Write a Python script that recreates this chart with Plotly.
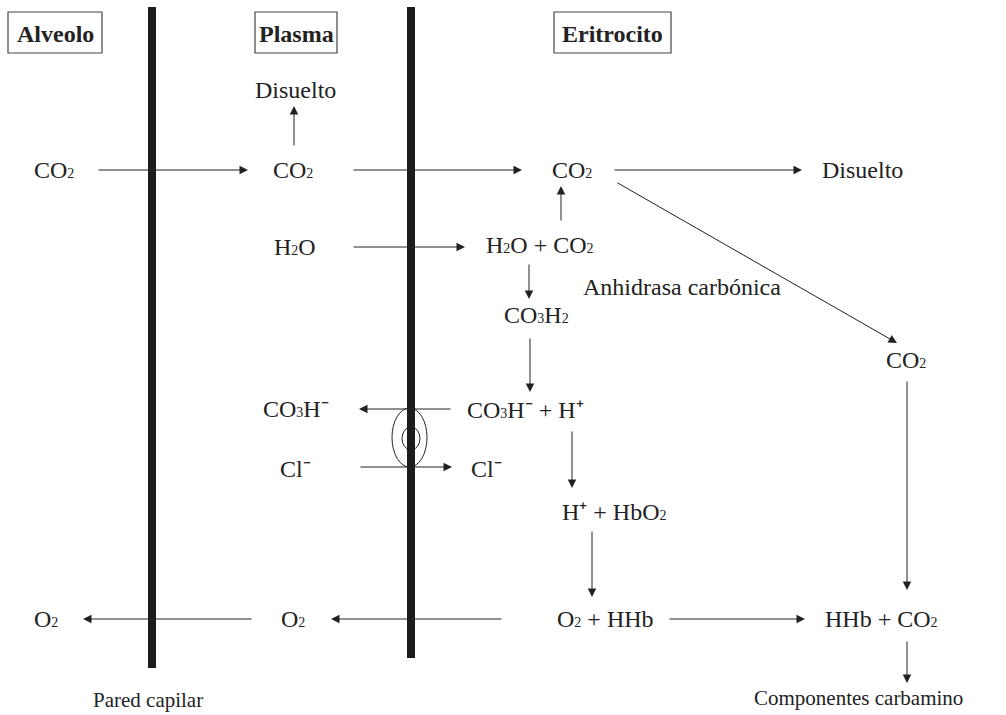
import plotly.graph_objects as go

W, H = 1006, 715
FONT = "Liberation Serif"
INK = "#222222"
SUB = '<span style="font-size:14px">{}</span>'


def s(t):
    return SUB.format(t)


MINUS = "\u207b"
PLUS = "\u207a"

# Compartment headers
header_text = ["Alveolo", "Plasma", "Eritrocito"]
header_x0 = [8, 255, 554]
header_x1 = [102, 337, 671]
header_y0 = [12, 12, 12]
header_y1 = [53, 53, 53]

# Node labels
node_text = [
    "Disuelto",
    "CO" + s("2"),
    "CO" + s("2"),
    "CO" + s("2"),
    "Disuelto",
    "CO" + s("2"),
    "H" + s("2") + "O",
    "H" + s("2") + "O + CO" + s("2"),
    "Anhidrasa carbónica",
    "CO" + s("3") + "H" + s("2"),
    "CO" + s("3") + "H" + MINUS,
    "CO" + s("3") + "H" + MINUS + " + H" + PLUS,
    "Cl" + MINUS,
    "Cl" + MINUS,
    "H" + PLUS + " + HbO" + s("2"),
    "O" + s("2"),
    "O" + s("2"),
    "O" + s("2") + " + HHb",
    "HHb + CO" + s("2"),
]
node_x = [295, 54, 293, 572, 862, 906, 295, 540, 682, 536, 296, 525, 295, 486, 614, 46, 293, 605, 881]
node_y = [90, 170, 170, 170, 170, 360, 247, 245, 287, 315, 409, 410, 469, 469, 512, 619, 619, 619, 619]

# Footer labels
foot_text = ["Pared capilar", "Componentes carbamino"]
foot_x = [148, 858]
foot_y = [700, 698]

# Arrows (start -> end)
arrow_x0 = [97, 352, 613, 294, 616, 561, 352, 529, 530, 452, 359, 572, 592, 503, 253, 668, 907, 907]
arrow_y0 = [170, 170, 170, 147, 182, 222, 247, 263, 337, 409, 467, 430, 530, 619, 619, 619, 380, 640]
arrow_x1 = [248, 522, 802, 294, 897, 561, 465, 529, 530, 359, 452, 572, 592, 331, 83, 805, 907, 907]
arrow_y1 = [170, 170, 170, 106, 343, 186, 247, 299, 392, 409, 467, 488, 597, 619, 619, 619, 590, 683]

# Capillary walls (membranes)
wall_x = [152, 411]
wall_top = [7, 7]
wall_bottom = [668, 658]

# Exchanger ovals
oval_x0 = [392, 402]
oval_x1 = [427, 420]
oval_y0 = [408, 427]
oval_y1 = [467, 450]

fig = go.Figure()
fig.add_trace(go.Scatter(x=[0, W], y=[0, H], mode="markers",
                         marker=dict(opacity=0), hoverinfo="skip", showlegend=False))

shapes = []
for i in range(len(oval_x0)):
    shapes.append(dict(type="circle", xref="x", yref="y",
                       x0=oval_x0[i], x1=oval_x1[i], y0=oval_y0[i], y1=oval_y1[i],
                       line=dict(color=INK, width=1)))
for i in range(len(wall_x)):
    shapes.append(dict(type="rect", xref="x", yref="y",
                       x0=wall_x[i] - 4, x1=wall_x[i] + 4, y0=wall_top[i], y1=wall_bottom[i],
                       line=dict(width=0), fillcolor="#1c1c1c"))
for i in range(len(header_text)):
    shapes.append(dict(type="rect", xref="x", yref="y",
                       x0=header_x0[i], x1=header_x1[i], y0=header_y0[i], y1=header_y1[i],
                       line=dict(color="#444444", width=1.2), fillcolor="white"))

ann = []
for i in range(len(header_text)):
    ann.append(dict(x=(header_x0[i] + header_x1[i]) / 2, y=(header_y0[i] + header_y1[i]) / 2 + 1,
                    xref="x", yref="y", text="<b>" + header_text[i] + "</b>", showarrow=False,
                    xanchor="center", yanchor="middle",
                    font=dict(family=FONT, size=24, color=INK)))
for t, x, y in zip(node_text, node_x, node_y):
    ann.append(dict(x=x, y=y, xref="x", yref="y", text=t, showarrow=False,
                    xanchor="center", yanchor="middle",
                    font=dict(family=FONT, size=24, color=INK)))
for t, x, y in zip(foot_text, foot_x, foot_y):
    ann.append(dict(x=x, y=y, xref="x", yref="y", text=t, showarrow=False,
                    xanchor="center", yanchor="middle",
                    font=dict(family=FONT, size=21, color=INK)))
for i in range(len(arrow_x0)):
    ann.append(dict(x=arrow_x1[i], y=arrow_y1[i], ax=arrow_x0[i], ay=arrow_y0[i],
                    xref="x", yref="y", axref="x", ayref="y", text="",
                    showarrow=True, arrowhead=2, arrowsize=1.7, arrowwidth=1,
                    arrowcolor=INK, standoff=0, startstandoff=0))

fig.update_layout(
    width=W, height=H,
    margin=dict(l=0, r=0, t=0, b=0),
    paper_bgcolor="white", plot_bgcolor="white",
    xaxis=dict(range=[0, W], visible=False, fixedrange=True),
    yaxis=dict(range=[H, 0], visible=False, fixedrange=True),
    shapes=shapes, annotations=ann, showlegend=False,
)

fig.write_html(
    "out.html",
    config={"displayModeBar": False},
    post_script="document.body.style.margin='0';document.body.style.overflow='hidden';",
)
